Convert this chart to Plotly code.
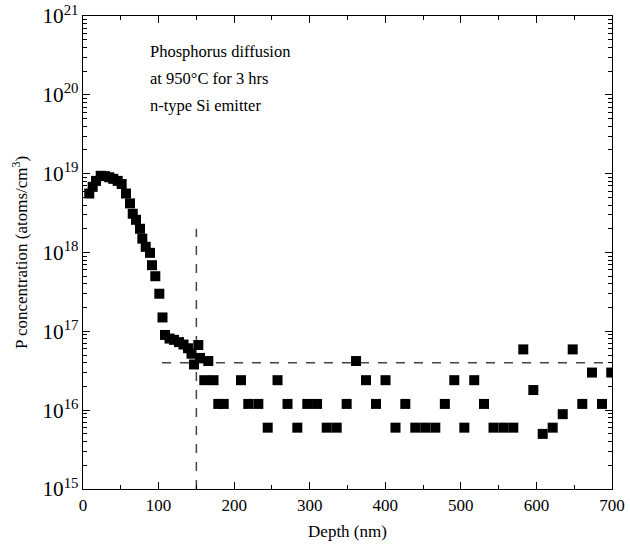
import plotly.graph_objects as go

# SIMS profile (depth in nm, concentration in atoms/cm^3)
depth = [8.3, 12.8, 17.2, 23.4, 29.1, 34.8, 40.1, 45.9, 51.2, 56.9, 62.2, 65.8, 70.1,
         75.4, 78.5, 83.0, 88.7, 91.3, 95.7, 101.0, 105.2, 108.5, 114.5, 120.4, 127.0,
         133.0, 138.9, 143.6, 146.9, 152.6, 154.8, 165.8,
         160.5, 172.7, 209.1, 257.4, 374.5, 400.3, 491.3, 517.7,
         179.0, 186.2, 218.7, 232.0, 270.6, 296.8, 309.7, 348.9, 387.7, 426.5, 478.8, 530.6, 660.7, 686.8,
         244.4, 283.6, 322.5, 335.7, 413.5, 439.7, 452.9, 466.2, 504.6, 543.2, 556.4, 569.4, 621.5,
         361.3, 582.6, 648.0, 595.9, 634.8, 608.3, 673.5, 699.0]
conc = [5.6e18, 6.8e18, 8.1e18, 9.4e18, 9.3e18, 9.0e18, 8.6e18, 8.1e18, 7.4e18, 5.6e18, 4.2e18,
        3.1e18, 2.6e18, 2.0e18, 1.5e18, 1.18e18, 9.9e17, 6.9e17, 5.0e17, 3.0e17, 1.5e17, 9.0e16,
        8.1e16, 7.8e16, 7.3e16, 6.8e16, 6.1e16, 5.2e16, 3.8e16, 6.7e16, 4.6e16, 4.2e16,
        2.4e16, 2.4e16, 2.4e16, 2.4e16, 2.4e16, 2.4e16, 2.4e16, 2.4e16,
        1.2e16, 1.2e16, 1.2e16, 1.2e16, 1.2e16, 1.2e16, 1.2e16, 1.2e16, 1.2e16, 1.2e16, 1.2e16, 1.2e16, 1.2e16, 1.2e16,
        6e15, 6e15, 6e15, 6e15, 6e15, 6e15, 6e15, 6e15, 6e15, 6e15, 6e15, 6e15, 6e15,
        4.2e16, 5.9e16, 5.9e16, 1.8e16, 8.9e15, 5.0e15, 3.0e16, 3.0e16]

# guide lines
h_line_x = [104.5, 700]
h_line_y = [4e16, 4e16]
v_line_x = [150, 150]
v_line_y = [1e15, 2e18]

labels = ["Phosphorus diffusion", "at 950°C for 3 hrs", "n-type Si emitter"]
label_y = [0.926, 0.867, 0.810]

FONT = "Liberation Serif, Times New Roman, serif"

fig = go.Figure()
fig.add_trace(go.Scatter(x=h_line_x, y=h_line_y, mode="lines",
                         line=dict(color="#444444", width=1.5, dash="dash"), showlegend=False))
fig.add_trace(go.Scatter(x=v_line_x, y=v_line_y, mode="lines",
                         line=dict(color="#444444", width=1.5, dash="dash"), showlegend=False))
fig.add_trace(go.Scatter(x=depth, y=conc, mode="markers",
                         marker=dict(symbol="square", size=10, color="black"),
                         showlegend=False))

for t, yy in zip(labels, label_y):
    fig.add_annotation(text=t, xref="paper", yref="paper", x=0.123, y=yy,
                       xanchor="left", yanchor="middle", showarrow=False,
                       font=dict(family=FONT, size=16.5, color="black"))

fig.update_layout(
    width=630, height=548,
    margin=dict(l=83, r=18, t=16, b=59),
    paper_bgcolor="white", plot_bgcolor="white",
    font=dict(family=FONT, size=17, color="black"),
    xaxis=dict(range=[0, 700], dtick=100, tick0=0, automargin=False,
               ticks="inside", ticklen=7, tickwidth=1, tickcolor="black",
               showline=True, linecolor="black", linewidth=1.2, mirror="allticks",
               showgrid=False, zeroline=False,
               minor=dict(ticks="inside", dtick=50, tick0=0, ticklen=4, tickcolor="black"),
               title=dict(text="Depth (nm)", font=dict(family=FONT, size=17), standoff=11),
               tickfont=dict(family=FONT, size=17)),
    yaxis=dict(type="log", range=[15, 21], dtick=1, exponentformat="power", automargin=False,
               ticks="inside", ticklen=7, tickwidth=1, tickcolor="black",
               showline=True, linecolor="black", linewidth=1.2, mirror="allticks",
               showgrid=False, zeroline=False,
               minor=dict(ticks="inside", ticklen=4, tickcolor="black", dtick="D1"),
               title=dict(text="P concentration (atoms/cm<sup>3</sup>)",
                          font=dict(family=FONT, size=17), standoff=10),
               tickfont=dict(family=FONT, size=17)),
)

fig.write_html("out.html")
